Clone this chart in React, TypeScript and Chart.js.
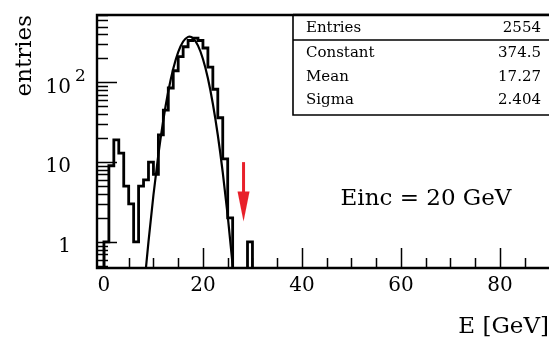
import React, { useEffect, useRef } from "react";
import { Chart, registerables } from "chart.js";

Chart.register(...registerables);

// Histogram: 1 GeV bins, low edges and counts
const binLowEdges = [
  0, 1, 2, 3, 4, 5, 6, 7, 8, 9, 10, 11, 12, 13, 14, 15, 16, 17, 18, 19,
  20, 21, 22, 23, 24, 25, 26, 27, 28, 29, 30, 31, 32, 33, 34, 35, 36,
];
const binCounts = [
  1, 9, 19, 13, 5, 3, 1, 5, 6, 10, 7, 22, 45, 85, 140, 210, 280, 335, 360, 335,
  270, 155, 82, 36, 11, 2, 0, 0, 0, 1, 0, 0, 0, 0, 0, 0,
];

// Gaussian fit curve (Constant 374.5, Mean 17.27, Sigma 2.404) sampled
const fitE = [8.4, 9, 10, 11, 12, 13, 14, 15, 16, 17, 17.27, 18, 19, 20, 21, 22, 23, 24, 25, 26, 26.2];
const fitValues = [
  0.414, 1.008, 3.87, 12.48, 33.9, 77.3, 148.5, 239.8, 325.7, 372.1, 374.5,
  357.6, 289.0, 196.5, 112.4, 54.0, 21.9, 7.44, 2.13, 0.512, 0.378,
];

// Axis labels / ticks
const xLabelValues = [0, 20, 40, 60, 80];
const xTickValues = [0, 5, 10, 15, 20, 25, 30, 35, 40, 45, 50, 55, 60, 65, 70, 75, 80, 85];
const yLabelValues = [1, 10, 100];
const yMinorTicks = [
  0.5, 0.6, 0.7, 0.8, 0.9, 2, 3, 4, 5, 6, 7, 8, 9, 20, 30, 40, 50, 60, 70, 80, 90,
  200, 300, 400, 500, 600, 700,
];

// Stats box
const statNames = ["Entries", "Constant", "Mean", "Sigma"];
const statValues = ["2554", "374.5", "17.27", "2.404"];

// Annotation
const annotationText = "Einc = 20 GeV";
const arrowE = 28.2;
const arrowTopValue = 10;
const arrowTipValue = 1.8;

const FONT = "'DejaVu Serif', 'Liberation Serif', serif";
const INK = "#000000";
const FLOOR = 0.01;

const overlayPlugin = {
  id: "overlay",
  afterDraw(chart: any) {
    const { ctx, chartArea: a, scales } = chart;
    const x = scales.x;
    const y = scales.y;
    ctx.save();
    ctx.strokeStyle = INK;
    ctx.fillStyle = INK;

    // frame
    ctx.lineWidth = 2.4;
    ctx.beginPath();
    ctx.moveTo(a.right + 5, a.top);
    ctx.lineTo(a.left, a.top);
    ctx.lineTo(a.left, a.bottom);
    ctx.lineTo(a.right + 5, a.bottom);
    ctx.stroke();

    // x ticks (inside)
    ctx.lineWidth = 1.5;
    ctx.beginPath();
    for (const v of xTickValues) {
      const px = Math.round(x.getPixelForValue(v)) + 0.5;
      const len = v % 20 === 0 ? 20 : 10;
      ctx.moveTo(px, a.bottom);
      ctx.lineTo(px, a.bottom - len);
    }
    ctx.stroke();

    // y ticks (inside)
    ctx.beginPath();
    for (const v of yLabelValues) {
      const py = Math.round(y.getPixelForValue(v)) + 0.5;
      ctx.moveTo(a.left, py);
      ctx.lineTo(a.left + 20, py);
    }
    for (const v of yMinorTicks) {
      const py = Math.round(y.getPixelForValue(v)) + 0.5;
      ctx.moveTo(a.left, py);
      ctx.lineTo(a.left + 11, py);
    }
    ctx.stroke();

    // superscript of 10^2 label
    ctx.font = `17px ${FONT}`;
    ctx.textAlign = "left";
    ctx.textBaseline = "middle";
    ctx.fillText("2", 75, y.getPixelForValue(100) - 6);

    // stats box
    const bx = 293;
    const bTop = a.top;
    const bBottom = 115;
    ctx.fillStyle = "#ffffff";
    ctx.fillRect(bx, bTop, a.right + 10 - bx, bBottom - bTop);
    ctx.lineWidth = 1.6;
    ctx.beginPath();
    ctx.moveTo(bx, bTop);
    ctx.lineTo(bx, bBottom);
    ctx.lineTo(a.right + 5, bBottom);
    ctx.moveTo(bx, 40);
    ctx.lineTo(a.right + 5, 40);
    ctx.stroke();
    ctx.lineWidth = 2.4;
    ctx.beginPath();
    ctx.moveTo(bx, bTop);
    ctx.lineTo(a.right + 5, bTop);
    ctx.stroke();
    ctx.fillStyle = INK;
    ctx.font = `15px ${FONT}`;
    const rowY = [28, 53, 77, 100];
    statNames.forEach((n, i) => {
      ctx.textAlign = "left";
      ctx.fillText(n, 306, rowY[i]);
      ctx.textAlign = "right";
      ctx.fillText(statValues[i], 541, rowY[i]);
    });

    // annotation text
    ctx.font = `23px ${FONT}`;
    ctx.textAlign = "center";
    ctx.fillText(annotationText, 426, 199);

    // red arrow
    const ax = x.getPixelForValue(arrowE);
    const aTop = y.getPixelForValue(arrowTopValue);
    const aTip = y.getPixelForValue(arrowTipValue);
    ctx.strokeStyle = "#e8202a";
    ctx.fillStyle = "#e8202a";
    ctx.lineWidth = 3;
    ctx.beginPath();
    ctx.moveTo(ax, aTop);
    ctx.lineTo(ax, aTip - 26);
    ctx.stroke();
    ctx.beginPath();
    ctx.moveTo(ax - 6, aTip - 30);
    ctx.lineTo(ax + 6, aTip - 30);
    ctx.lineTo(ax, aTip);
    ctx.closePath();
    ctx.fill();

    ctx.restore();
  },
};

export default function App() {
  const ref = useRef<HTMLCanvasElement>(null);

  useEffect(() => {
    const canvas = ref.current;
    if (!canvas) return;

    const histPoints: { x: number; y: number }[] = [{ x: binLowEdges[0], y: FLOOR }];
    binCounts.forEach((c, i) => histPoints.push({ x: binLowEdges[i], y: c > 0 ? c : FLOOR }));
    histPoints.push({ x: binLowEdges[binCounts.length], y: FLOOR });

    const fitPoints = fitE.map((e, i) => ({ x: e, y: fitValues[i] }));

    const chart = new Chart(canvas, {
      type: "line",
      data: {
        datasets: [
          {
            data: histPoints,
            stepped: "before",
            borderColor: INK,
            borderWidth: 2.8,
            pointRadius: 0,
            fill: false,
          },
          {
            data: fitPoints,
            borderColor: INK,
            borderWidth: 2.2,
            pointRadius: 0,
            fill: false,
            cubicInterpolationMode: "monotone",
          },
        ],
      },
      options: {
        responsive: false,
        animation: false,
        events: [],
        layout: { padding: { top: 15, right: 0, left: 0, bottom: 0 } },
        plugins: { legend: { display: false }, tooltip: { enabled: false } },
        scales: {
          x: {
            type: "linear",
            min: -1.4,
            max: 89.9,
            grid: { display: false, drawTicks: true, tickLength: 4 },
            border: { display: false },
            afterBuildTicks: (s: any) => {
              s.ticks = xLabelValues.map((v) => ({ value: v }));
            },
            afterFit: (s: any) => {
              s.height = 75;
            },
            ticks: {
              color: INK,
              font: { family: FONT, size: 20 },
              padding: 2,
              maxRotation: 0,
              autoSkip: false,
              callback: (v: any) => String(v),
            },
            title: {
              display: true,
              text: "E [GeV]",
              align: "end",
              color: INK,
              font: { family: FONT, size: 23 },
              padding: { top: 0, bottom: 2 },
            },
          },
          y: {
            type: "logarithmic",
            min: 0.47,
            max: 700,
            grid: { display: false, drawTicks: true, tickLength: 24 },
            border: { display: false },
            afterBuildTicks: (s: any) => {
              s.ticks = yLabelValues.map((v) => ({ value: v }));
            },
            afterFit: (s: any) => {
              s.width = 97;
            },
            ticks: {
              color: INK,
              font: { family: FONT, size: 20 },
              padding: 2,
              labelOffset: 5,
              autoSkip: false,
              callback: (v: any) => (v === 1 ? "1" : "10"),
            },
            title: {
              display: true,
              text: "entries",
              align: "end",
              color: INK,
              font: { family: FONT, size: 23 },
              padding: { top: 11, bottom: 0 },
            },
          },
        },
      },
      plugins: [overlayPlugin],
    } as any);

    return () => chart.destroy();
  }, []);

  return (
    <div
      style={{
        position: "fixed",
        left: 0,
        top: 0,
        width: 549,
        height: 343,
        overflow: "hidden",
        background: "#ffffff",
      }}
    >
      <canvas ref={ref} width={549} height={343} style={{ display: "block" }} />
    </div>
  );
}
